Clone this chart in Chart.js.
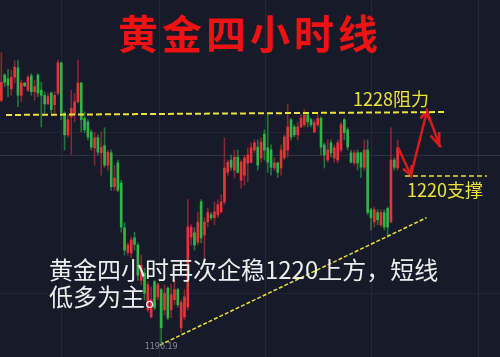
<!DOCTYPE html>
<html>
<head>
<meta charset="utf-8">
<title>黄金四小时线</title>
<script src="https://cdn.jsdelivr.net/npm/chart.js@4.4.0/dist/chart.umd.min.js"></script>
<style>
  html, body { margin: 0; padding: 0; background: #161a29; }
  #wrap { width: 500px; height: 357px; position: relative; }
</style>
</head>
<body>
<div id="wrap"><canvas id="chart" width="500" height="357"></canvas></div>
<script>
// 4-hour gold candles (USD/oz), oldest first
const opens = [
  1229.9, 1233.4, 1232.9, 1231.5, 1233.1, 1234.4, 1230.6, 1232.3, 1231.3, 1233.3,
  1231.1, 1233.4, 1231.3, 1230.6, 1229.4, 1230.9, 1229.3, 1230.9, 1235.1, 1228.1,
  1225.1, 1227.6, 1227.9, 1229.7, 1232.3, 1227.4, 1226.9, 1225.5, 1223.3, 1224.7,
  1222.6, 1223.6, 1220.9, 1222.6, 1217.9, 1221.2, 1218.4, 1212.2, 1208.8, 1208.7,
  1210.8, 1209.8, 1204.9, 1205.9, 1200.8, 1199.8, 1204.7, 1202.6, 1203.6, 1200.8,
  1203.8, 1200.8, 1202.2, 1203.6, 1198.3, 1199.8, 1201.2, 1210.9, 1211.5, 1210.2,
  1215.8, 1211.2, 1213.0, 1214.0, 1213.6, 1214.0, 1214.4, 1215.8, 1219.9, 1221.6,
  1220.2, 1222.0, 1218.8, 1219.5, 1221.2, 1221.3, 1223.0, 1223.4, 1221.9, 1225.2,
  1223.3, 1223.0, 1220.5, 1221.2, 1220.5, 1221.9, 1223.0, 1227.2, 1226.2, 1225.1,
  1226.2, 1226.5, 1227.9, 1227.2, 1225.5, 1226.5, 1227.4, 1223.7, 1221.6, 1224.0,
  1221.9, 1221.6, 1223.0, 1227.2, 1225.8, 1222.6, 1221.2, 1222.6, 1222.6, 1220.6,
  1223.0, 1214.7, 1213.0, 1214.3, 1212.6, 1214.3, 1214.9, 1213.0, 1221.6, 1220.5
];
const highs = [
  1236.5, 1233.6, 1234.2, 1234.1, 1235.4, 1235.5, 1232.7, 1232.4, 1233.4, 1233.6,
  1232.7, 1233.6, 1232.4, 1231.1, 1230.9, 1231.1, 1231.1, 1235.5, 1235.2, 1228.3,
  1227.9, 1231.3, 1230.9, 1235.5, 1232.4, 1228.3, 1227.2, 1225.8, 1225.4, 1225.1,
  1225.5, 1226.1, 1223.0, 1223.0, 1220.9, 1221.6, 1218.8, 1212.9, 1210.1, 1210.9,
  1211.6, 1210.1, 1208.4, 1206.6, 1204.7, 1204.0, 1204.9, 1204.5, 1203.8, 1204.3,
  1204.0, 1204.3, 1204.9, 1203.8, 1202.2, 1203.6, 1216.1, 1212.6, 1212.2, 1214.4,
  1216.1, 1213.6, 1214.9, 1214.3, 1215.8, 1216.1, 1216.8, 1224.7, 1221.6, 1222.3,
  1223.0, 1223.0, 1221.6, 1222.3, 1223.3, 1224.0, 1224.4, 1224.4, 1224.7, 1225.8,
  1228.1, 1223.7, 1221.9, 1221.3, 1223.7, 1225.1, 1229.3, 1227.4, 1226.5, 1226.9,
  1227.9, 1228.6, 1228.1, 1227.4, 1227.2, 1227.9, 1227.6, 1224.0, 1224.4, 1224.4,
  1223.7, 1224.4, 1226.8, 1227.4, 1226.1, 1223.0, 1223.0, 1223.0, 1222.7, 1224.4,
  1224.4, 1214.9, 1215.1, 1214.7, 1214.7, 1214.7, 1215.1, 1226.1, 1221.9, 1224.4
];
const lows = [
  1229.7, 1231.8, 1230.4, 1230.6, 1232.3, 1229.0, 1229.7, 1231.8, 1231.1, 1230.6,
  1229.9, 1230.4, 1226.2, 1228.1, 1229.3, 1228.1, 1228.1, 1230.6, 1227.2, 1223.0,
  1224.8, 1222.4, 1226.9, 1229.5, 1225.5, 1225.4, 1224.4, 1223.0, 1220.9, 1222.3,
  1219.5, 1220.6, 1220.2, 1217.4, 1217.4, 1217.2, 1211.6, 1208.4, 1208.4, 1208.0,
  1209.1, 1204.9, 1204.3, 1202.2, 1200.5, 1199.7, 1200.8, 1202.2, 1196.19, 1200.1,
  1199.4, 1199.7, 1201.5, 1201.2, 1197.7, 1199.4, 1200.8, 1209.8, 1209.1, 1209.8,
  1210.1, 1208.0, 1212.3, 1213.3, 1212.6, 1213.6, 1214.3, 1215.4, 1219.5, 1220.2,
  1219.1, 1219.8, 1217.7, 1218.1, 1218.6, 1221.2, 1222.6, 1220.2, 1221.3, 1221.6,
  1219.9, 1219.5, 1220.2, 1219.2, 1219.5, 1221.6, 1222.0, 1224.4, 1224.8, 1224.4,
  1226.1, 1226.2, 1226.2, 1226.2, 1225.4, 1226.2, 1222.3, 1220.5, 1221.3, 1222.0,
  1221.3, 1221.2, 1222.7, 1224.4, 1223.0, 1221.2, 1220.9, 1220.2, 1219.2, 1220.2,
  1214.0, 1211.9, 1212.3, 1212.6, 1212.3, 1211.9, 1210.9, 1212.9, 1220.2, 1220.2
];
const closes = [
  1232.4, 1232.4, 1232.0, 1233.1, 1234.5, 1230.6, 1232.3, 1231.9, 1233.1, 1231.1,
  1231.8, 1230.9, 1230.6, 1229.4, 1230.4, 1228.6, 1230.6, 1235.1, 1228.1, 1225.1,
  1227.2, 1228.8, 1229.7, 1232.3, 1227.2, 1225.8, 1224.8, 1223.4, 1224.7, 1222.7,
  1223.4, 1220.9, 1222.7, 1217.9, 1219.1, 1217.4, 1212.3, 1209.1, 1209.8, 1210.5,
  1209.9, 1205.6, 1207.0, 1203.1, 1204.3, 1202.2, 1201.1, 1204.3, 1198.3, 1203.1,
  1199.7, 1202.9, 1203.6, 1201.5, 1201.8, 1202.6, 1212.3, 1212.3, 1209.8, 1213.0,
  1210.8, 1213.0, 1214.3, 1213.6, 1214.4, 1215.4, 1215.8, 1220.5, 1221.3, 1220.6,
  1222.0, 1219.9, 1221.3, 1221.9, 1222.3, 1223.3, 1224.0, 1220.9, 1224.1, 1223.0,
  1221.3, 1220.6, 1221.2, 1219.9, 1223.0, 1224.8, 1226.2, 1224.8, 1225.1, 1226.2,
  1227.4, 1227.9, 1226.9, 1226.5, 1226.8, 1227.4, 1223.4, 1222.3, 1223.0, 1222.6,
  1223.3, 1224.0, 1226.5, 1225.4, 1223.4, 1221.3, 1222.6, 1221.2, 1220.6, 1223.0,
  1214.3, 1213.6, 1214.7, 1213.3, 1214.3, 1212.3, 1212.3, 1221.6, 1220.6, 1223.3
];

// Hand-drawn analysis marks, in (bar index, price) units
const resistanceLine = [[1.4, 1227.86], [133.2, 1228.27]];
const supportLine    = [[121.2, 1219.39], [145.8, 1219.39]];
const trendLine      = [[47.6, 1195.9], [127.7, 1213.6]];
const arrowPath      = [[119.1, 1223.4], [123.0, 1219.5], [127.8, 1228.4], [131.7, 1223.55]];
const arrowHeads = [
  [[120.6, 1220.4], [123.0, 1219.5], [123.2, 1220.9]],
  [[125.8, 1227.4], [127.8, 1228.4], [128.5, 1227.1]],
  [[128.9, 1225.0], [131.7, 1223.55], [131.5, 1225.5]]
];

// Grid positions
const timeGridAt  = [5, 31.4, 63.3, 95.1, 127.2];
const priceGridAt = [1225.4, 1222.2, 1203.1];
const markedPrice = 1222.2;

// Text
const titleText = '黄金四小时线';
const resistanceText = '1228阻力';
const supportText = '1220支撑';
const commentLines = ['黄金四小时再次企稳1220上方，短线', '低多为主。'];
const lowIndex = lows.indexOf(Math.min(...lows));

const BG = '#161a29';
const UP = '#e3343a', DOWN = '#2fb446';
const UP_WICK = 'rgba(210,48,55,0.6)', DOWN_WICK = 'rgba(45,175,70,0.6)';
const YELLOW = '#ece23a', ARROW = '#d81c1c';

const isUp = opens.map((o, i) => closes[i] >= o);
const pts = arr => arr.map(([x, y]) => ({ x, y }));

const lineSet = (data, color, width, dash) => ({
  type: 'line', data: pts(data), borderColor: color, borderWidth: width,
  borderDash: dash || [], pointRadius: 0, fill: false, tension: 0,
  borderCapStyle: 'butt', borderJoinStyle: 'miter', order: -1
});

const textPlugin = {
  id: 'chartText',
  beforeDraw(chart) {
    const { ctx, width, height } = chart;
    ctx.save();
    ctx.fillStyle = BG;
    ctx.fillRect(0, 0, width, height);
    ctx.restore();
  },
  afterDraw(chart) {
    const { ctx } = chart;
    const xs = chart.scales.x, ys = chart.scales.y;
    const put = (txt, x, y, font, color, align, spacing) => {
      ctx.save();
      ctx.font = font;
      ctx.fillStyle = color;
      ctx.textAlign = align;
      ctx.textBaseline = 'middle';
      if ('letterSpacing' in ctx) ctx.letterSpacing = spacing || '0px';
      ctx.fillText(txt, x, y);
      ctx.restore();
    };
    put(titleText, chart.width / 2, 34, 'bold 40px "Noto Sans CJK SC"', '#ee1212', 'center', '4px');
    put(resistanceText, xs.getPixelForValue(105.6), ys.getPixelForValue(1230.1),
        '18px "Noto Sans CJK SC"', YELLOW, 'left');
    put(supportText, xs.getPixelForValue(121.8), ys.getPixelForValue(1217.4),
        '18px "Noto Sans CJK SC"', YELLOW, 'left');
    put(commentLines[0], xs.getPixelForValue(14.3), ys.getPixelForValue(1206.3),
        '24px "Noto Sans CJK SC"', '#ededed', 'left');
    put(commentLines[1], xs.getPixelForValue(14.3), ys.getPixelForValue(1202.6),
        '24px "Noto Sans CJK SC"', '#ededed', 'left');
    put(lows[lowIndex].toFixed(2), xs.getPixelForValue(lowIndex), ys.getPixelForValue(1195.6),
        '8px "DejaVu Sans"', '#868a94', 'center');
  }
};

const datasets = [
  {
    label: 'wick',
    data: opens.map((_, i) => ({ x: i, y: [lows[i], highs[i]] })),
    backgroundColor: isUp.map(u => u ? UP_WICK : DOWN_WICK),
    barThickness: 1, grouped: false, borderWidth: 0, order: 2
  },
  {
    label: 'body',
    data: opens.map((o, i) => ({ x: i, y: [o, closes[i]] })),
    backgroundColor: isUp.map(u => u ? UP : DOWN),
    barThickness: 2, grouped: false, borderWidth: 0, order: 1
  },
  lineSet(resistanceLine, YELLOW, 2, [6, 3]),
  lineSet(supportLine, YELLOW, 1.5, [5, 3]),
  lineSet(trendLine, YELLOW, 1.5, [4, 2]),
  lineSet(arrowPath, ARROW, 2.5),
  ...arrowHeads.map(h => lineSet(h, ARROW, 2.5))
];

new Chart(document.getElementById('chart'), {
  type: 'bar',
  data: { datasets },
  plugins: [textPlugin],
  options: {
    responsive: false,
    animation: false,
    events: [],
    layout: { padding: 0, autoPadding: false },
    plugins: { legend: { display: false }, tooltip: { enabled: false }, title: { display: false } },
    scales: {
      x: {
        type: 'linear', min: -0.4, max: 149.75, offset: false,
        afterBuildTicks: s => { s.ticks = timeGridAt.map(v => ({ value: v })); },
        ticks: { display: false },
        grid: { color: '#232736', drawTicks: false, lineWidth: 1 },
        border: { display: false }
      },
      y: {
        type: 'linear', min: 1194.25, max: 1243.83,
        afterBuildTicks: s => { s.ticks = priceGridAt.map(v => ({ value: v })); },
        ticks: { display: false },
        grid: {
          color: c => (c.tick && c.tick.value === markedPrice) ? '#2e323f' : '#222634',
          drawTicks: false, lineWidth: 1
        },
        border: { display: false }
      }
    }
  }
});
</script>
</body>
</html>
